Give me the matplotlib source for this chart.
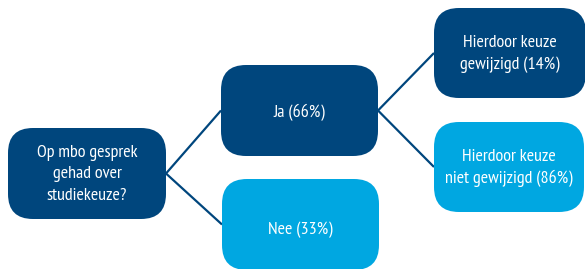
import matplotlib
matplotlib.use("Agg")
import matplotlib.pyplot as plt
from matplotlib.patches import FancyBboxPatch

plt.rcParams["font.family"] = ["PT Sans Narrow", "DejaVu Sans"]

# data
labels = ["Op mbo gesprek\ngehad over\nstudiekeuze?", "Ja", "Nee",
          "Hierdoor keuze\ngewijzigd", "Hierdoor keuze\nniet gewijzigd"]
percents = [None, 66, 33, 14, 86]
edges = [(0, 1), (0, 2), (1, 3), (1, 4)]
dark = [True, True, False, True, False]

# layout in pixels (x0, y0, x1, y1), y from top
boxes = [(8, 128, 166, 219), (221, 65, 378, 156), (222, 179, 379, 270),
         (434, 8, 586, 98), (434, 122, 584, 212)]
text_dy = [1, 2, 5, 1, 1]

NAVY = "#00467d"
SKY = "#00a7e1"

fig = plt.figure(figsize=(5.85, 2.69), dpi=100)
ax = fig.add_axes([0, 0, 1, 1])
ax.set_xlim(0, 585)
ax.set_ylim(269, 0)
ax.axis("off")

for a, b in edges:
    xa0, ya0, xa1, ya1 = boxes[a]
    xb0, yb0, xb1, yb1 = boxes[b]
    ax.plot([xa1, xb0], [(ya0 + ya1) / 2, (yb0 + yb1) / 2],
            color=NAVY, lw=1.6, zorder=1, solid_capstyle="butt")

for i, (x0, y0, x1, y1) in enumerate(boxes):
    r = 25
    patch = FancyBboxPatch((x0 + r, y0 + r), (x1 - x0) - 2 * r, (y1 - y0) - 2 * r,
                           boxstyle="round,pad=%d,rounding_size=%d" % (r, r),
                           fc=NAVY if dark[i] else SKY, ec="none", zorder=2)
    ax.add_patch(patch)
    txt = labels[i]
    if percents[i] is not None:
        txt = txt + " ({}%)".format(percents[i])
    ax.text((x0 + x1) / 2, (y0 + y1) / 2 + text_dy[i], txt, color="white",
            ha="center", va="center", fontsize=13, linespacing=1.42,
            zorder=3)

fig.savefig("out.png", dpi=100)
